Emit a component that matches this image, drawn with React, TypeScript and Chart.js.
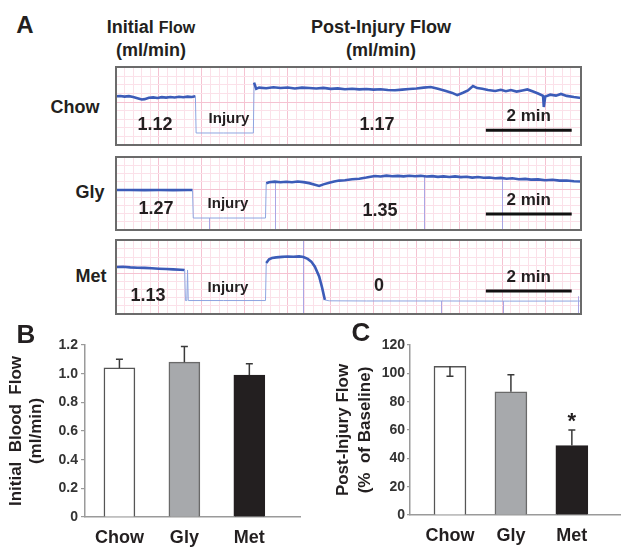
import React, { useEffect, useRef } from "react";
import { Chart, registerables } from "chart.js";
Chart.register(...registerables);

const FONT = "'Liberation Sans', Arial, Helvetica, sans-serif";
const INK = "#231f20";

// ---------- Panel A: flow traces (time in s, level in % of trace window) ----------
const TRACE_SPAN = 650;
const SCALE_BAR_START = 517;
const SCALE_BAR_LEN = 120; // 2 min

const chowTime = [0,6,12,18,24,30,36,40,46,52,58,64,70,76,82,88,94,100,106,111,112,150,192,193,196,200,210,220,230,240,250,260,270,280,290,300,310,320,330,340,350,360,370,380,390,400,410,420,430,440,450,460,470,477,485,492,499,505,512,520,530,538,545,552,560,568,575,583,590,597,598,600,607,615,622,630,640,650];
const chowFlow = [62.5,62.8,62.0,62.6,61.5,60.0,58.3,58.8,60.5,61.0,60.2,61.3,60.8,61.5,61.0,61.8,61.2,62.0,61.6,62.5,15.4,15.4,15.4,80.0,72.0,73.5,72.8,74.0,73.0,73.8,72.5,73.6,73.0,72.4,73.2,72.0,72.6,71.5,72.2,71.3,71.8,71.0,71.5,70.6,70.2,71.0,71.8,72.5,73.6,74.4,72.0,69.5,66.8,64.0,67.0,70.0,75.6,73.0,72.0,70.5,69.2,70.8,69.0,70.5,68.5,70.0,71.2,68.5,66.0,63.0,48.7,62.0,64.5,63.3,65.5,63.0,61.5,60.3];
const chowThin = [[111, 193]];
const chowMarkTime: number[] = [];
const chowMarkTop: number[] = [];

const glyTime = [0,20,40,60,80,100,107,108,150,209,210,214,222,230,238,246,254,262,270,278,284,290,298,305,312,320,330,340,350,356,362,370,378,386,394,402,410,418,426,434,442,450,458,466,474,482,490,498,506,514,522,530,538,546,554,563,572,580,590,600,610,620,630,640,650];
const glyFlow = [54.8,54.8,54.6,54.8,54.6,54.8,54.8,16.4,16.4,16.4,64.0,65.5,66.2,65.4,66.0,65.5,66.5,65.6,64.2,62.0,60.3,62.5,64.8,66.5,67.7,68.2,69.5,70.3,71.8,73.0,74.0,73.2,74.5,73.6,74.2,73.5,74.4,73.6,74.2,73.2,73.8,72.8,73.5,72.6,73.4,72.5,72.9,71.8,72.5,71.6,72.0,70.8,71.4,70.2,70.8,69.5,70.0,69.0,69.4,68.2,68.8,67.6,67.9,66.8,66.5];
const glyThin = [[107, 210]];
const glyMarkTime = [130, 222, 430, 540, 648];
const glyMarkTop = [16.4, 66, 73, 72, 66];

const metTime = [0,10,20,30,40,50,60,70,80,90,96,97,99,100,101,150,209,210,214,218,224,232,240,248,256,262,268,273,278,284,288,292,298,350,450,550,645,650];
const metFlow = [63.5,63.8,63.0,62.6,62.3,61.8,61.2,60.8,60.3,59.8,59.5,18.2,18.2,59.5,18.2,18.2,18.2,69.0,74.0,75.7,76.5,77.2,77.6,77.3,77.8,77.0,74.5,70.8,64.0,50.7,36.0,19.0,17.8,17.6,17.6,17.4,17.5,17.5];
const metThin = [[96, 210], [290, 650]];
const metMarkTime = [261, 454, 541, 646];
const metMarkTop = [100, 17.6, 17.5, 24];

const traceGroups = ["Chow", "Gly", "Met"];
const initialFlowText = ["1.12", "1.27", "1.13"];
const postFlowText = ["1.17", "1.35", "0"];
const scaleBarLevel = [19, 22, 31];

// ---------- Panels B and C ----------
const groups = ["Chow", "Gly", "Met"];
const initialMean = [1.04, 1.08, 0.99];
const initialSem = [0.06, 0.11, 0.08];
const initialSemDir = [1, 1, 1];
const initialSig = ["", "", ""];
const postMean = [105, 87, 49];
const postSem = [7, 12, 11];
const postSemDir = [-1, 1, 1];
const postSig = ["", "", "*"];
const barFill = ["#ffffff", "#a7a9ac", "#231f20"];
const barEdge = ["#555555", "#6a6a6a", "#231f20"];

const MINOR = "#fbe1e9";
const MAJOR = "#f5c3d2";
const TRACE_DARK = "#3c5cb8";
const TRACE_LIGHT = "#8ea5e0";
const MARK = "#aaa6e4";

type Box = { left: number; top: number; width: number; height: number };

function Trace({ time, flow, thin, markT, markTop, barLevel, box }: { time: number[]; flow: number[]; thin: number[][]; markT: number[]; markTop: number[]; barLevel: number; box: Box }) {
  const ref = useRef<HTMLCanvasElement>(null);
  useEffect(() => {
    const isThin = (a: number, b: number) => a === b || thin.some(([s, e]) => a >= s && b <= e);
    const marks = {
      id: "marks",
      beforeDatasetsDraw(chart: any) {
        const { ctx, scales } = chart;
        ctx.save();
        ctx.strokeStyle = MARK;
        ctx.lineWidth = 1;
        markT.forEach((t, i) => {
          const x = Math.round(scales.x.getPixelForValue(t)) + 0.5;
          ctx.beginPath();
          ctx.moveTo(x, scales.y.getPixelForValue(0));
          ctx.lineTo(x, scales.y.getPixelForValue(markTop[i]));
          ctx.stroke();
        });
        ctx.restore();
      },
    };
    const deco = {
      id: "deco",
      afterDatasetsDraw(chart: any) {
        const { ctx, chartArea: a, scales } = chart;
        const xs = scales.x, ys = scales.y;
        const x0 = xs.getPixelForValue(SCALE_BAR_START);
        const x1 = xs.getPixelForValue(SCALE_BAR_START + SCALE_BAR_LEN);
        const y = ys.getPixelForValue(barLevel);
        ctx.save();
        ctx.strokeStyle = "#111";
        ctx.lineWidth = 3;
        ctx.beginPath();
        ctx.moveTo(x0, y);
        ctx.lineTo(x1, y);
        ctx.stroke();
        ctx.fillStyle = INK;
        ctx.font = `bold 17px ${FONT}`;
        ctx.textAlign = "center";
        ctx.textBaseline = "middle";
        ctx.fillText("2 min", (x0 + x1) / 2, y - 14);
        ctx.strokeStyle = "#6b6b6b";
        ctx.lineWidth = 2;
        ctx.strokeRect(a.left, a.top, a.right - a.left, a.bottom - a.top);
        ctx.restore();
      },
    };
    const gridColor = (c: any) => (c.tick && Math.round(c.tick.value) % 60 === 0 ? MAJOR : MINOR);
    const chart = new Chart(ref.current!, {
      type: "line",
      data: {
        datasets: [
          {
            data: time.map((t, i) => ({ x: t, y: flow[i] })),
            borderColor: TRACE_DARK,
            borderWidth: 2.6,
            pointRadius: 0,
            tension: 0,
            segment: {
              borderColor: (c: any) => (isThin(c.p0.parsed.x, c.p1.parsed.x) ? TRACE_LIGHT : TRACE_DARK),
              borderWidth: (c: any) => (isThin(c.p0.parsed.x, c.p1.parsed.x) ? 1 : 2.6),
            },
          } as any,
        ],
      },
      options: {
        responsive: false,
        animation: false,
        events: [],
        layout: { padding: 2 },
        plugins: { legend: { display: false }, tooltip: { enabled: false } },
        scales: {
          x: {
            type: "linear",
            min: 0,
            max: TRACE_SPAN,
            ticks: { display: false, stepSize: 12 },
            grid: { drawTicks: false, color: gridColor },
            border: { display: false },
          },
          y: {
            min: 0,
            max: 100,
            ticks: { display: false, stepSize: 11 },
            grid: { drawTicks: false, color: (c: any) => (c.tick && Math.round(c.tick.value) % 55 === 0 ? MAJOR : MINOR) },
            border: { display: false },
          },
        },
      } as any,
      plugins: [marks, deco],
    });
    return () => chart.destroy();
  }, []);
  return (
    <canvas
      ref={ref}
      width={box.width + 4}
      height={box.height + 4}
      style={{ position: "absolute", left: box.left - 2, top: box.top - 2 }}
    />
  );
}

type BarProps = {
  box: Box;
  area: { l: number; t: number; r: number; b: number };
  means: number[];
  sems: number[];
  dirs: number[];
  sig: string[];
  yMax: number;
  yStep: number;
  fmt: (v: number) => string;
  title: string[];
  titlePad: number;
  titleLH: number;
  xMin: number;
  xMax: number;
  barW: number;
  tickLen: number;
  tickPad: number;
};

function BarPanel(p: BarProps) {
  const ref = useRef<HTMLCanvasElement>(null);
  useEffect(() => {
    const errPlugin = {
      id: "err",
      afterDatasetsDraw(chart: any) {
        const { ctx, scales } = chart;
        const meta = chart.getDatasetMeta(0);
        ctx.save();
        ctx.strokeStyle = "#3a3a3a";
        ctx.lineWidth = 1.5;
        meta.data.forEach((bar: any, i: number) => {
          const yTop = scales.y.getPixelForValue(p.means[i]);
          const yEnd = scales.y.getPixelForValue(p.means[i] + p.dirs[i] * p.sems[i]);
          ctx.beginPath();
          ctx.moveTo(bar.x, yTop);
          ctx.lineTo(bar.x, yEnd);
          ctx.moveTo(bar.x - 3.5, yEnd);
          ctx.lineTo(bar.x + 3.5, yEnd);
          ctx.stroke();
          if (p.sig[i]) {
            ctx.fillStyle = INK;
            ctx.font = `bold 22px ${FONT}`;
            ctx.textAlign = "center";
            ctx.textBaseline = "middle";
            ctx.fillText(p.sig[i], bar.x, Math.min(yTop, yEnd) - 8);
          }
        });
        ctx.restore();
      },
    };
    const chart = new Chart(ref.current!, {
      type: "bar",
      data: {
        datasets: [
          {
            data: p.means.map((m, i) => ({ x: i + 1, y: m })),
            backgroundColor: barFill,
            borderColor: barEdge,
            borderWidth: 1.5,
            barThickness: p.barW,
          } as any,
        ],
      },
      options: {
        responsive: false,
        animation: false,
        events: [],
        layout: { padding: { top: p.area.t, right: p.box.width - p.area.r, left: 0, bottom: 0 } },
        plugins: { legend: { display: false }, tooltip: { enabled: false } },
        scales: {
          x: {
            type: "linear",
            offset: false,
            min: p.xMin,
            max: p.xMax,
            afterBuildTicks: (s: any) => {
              s.ticks = groups.map((_, i) => ({ value: i + 1 }));
            },
            afterFit: (s: any) => {
              s.height = p.box.height - p.area.b;
            },
            ticks: {
              autoSkip: false,
              maxRotation: 0,
              padding: 10,
              color: INK,
              font: { family: FONT, size: 18, weight: "bold" },
              callback: (v: any) => groups[Math.round(v) - 1] ?? "",
            },
            grid: { display: false, drawTicks: false, offset: false },
            border: { display: true, color: "#9a9a9a", width: 1.5 },
          },
          y: {
            min: 0,
            max: p.yMax,
            afterFit: (s: any) => {
              s.width = p.area.l;
            },
            ticks: {
              stepSize: p.yStep,
              padding: p.tickPad,
              color: "#333",
              font: { family: FONT, size: 14, weight: "bold" },
              callback: (v: any) => p.fmt(Number(v)),
            },
            grid: { drawOnChartArea: false, drawTicks: true, tickLength: p.tickLen, color: "#9a9a9a", lineWidth: 1.2 },
            border: { display: true, color: "#9a9a9a", width: 1.5 },
            title: {
              display: true,
              text: p.title,
              color: INK,
              font: { family: FONT, size: 17, weight: "bold", lineHeight: p.titleLH },
              padding: { top: p.titlePad, bottom: 0 },
            },
          },
        },
      } as any,
      plugins: [errPlugin],
    });
    return () => chart.destroy();
  }, []);
  return (
    <canvas
      ref={ref}
      width={p.box.width}
      height={p.box.height}
      style={{ position: "absolute", left: p.box.left, top: p.box.top }}
    />
  );
}

function T({ x, y, size, children, weight = 700 }: { x: number; y: number; size: number; children: any; weight?: number }) {
  return (
    <div
      style={{
        position: "absolute",
        left: x,
        top: y,
        transform: "translate(-50%, -50%)",
        fontFamily: FONT,
        fontSize: size,
        fontWeight: weight,
        color: INK,
        whiteSpace: "pre",
        lineHeight: 1,
      }}
    >
      {children}
    </div>
  );
}

const traceBoxes: Box[] = [
  { left: 116, top: 67, width: 465, height: 78 },
  { left: 116, top: 157, width: 465, height: 73 },
  { left: 116, top: 240, width: 465, height: 74 },
];
const traceData = [
  { time: chowTime, flow: chowFlow, thin: chowThin, markT: chowMarkTime, markTop: chowMarkTop },
  { time: glyTime, flow: glyFlow, thin: glyThin, markT: glyMarkTime, markTop: glyMarkTop },
  { time: metTime, flow: metFlow, thin: metThin, markT: metMarkTime, markTop: metMarkTop },
];
const groupLabelPos = [[75, 107], [90, 192], [91, 276]];
const initPos = [[155, 124], [156, 208], [148, 295]];
const injPos = [[229, 117], [228, 202], [228, 286]];
const postPos = [[377, 124], [380, 210], [379, 285]];

export default function App() {
  return (
    <div style={{ position: "absolute", left: 0, top: 0, width: 623, height: 548, background: "#fff", overflow: "hidden" }}>
      {traceData.map((d, i) => (
        <Trace key={i} time={d.time} flow={d.flow} thin={d.thin} markT={d.markT} markTop={d.markTop} barLevel={scaleBarLevel[i]} box={traceBoxes[i]} />
      ))}
      <BarPanel
        box={{ left: 0, top: 315, width: 310, height: 233 }}
        area={{ l: 85, t: 30, r: 300, b: 202 }}
        means={initialMean}
        sems={initialSem}
        dirs={initialSemDir}
        sig={initialSig}
        yMax={1.2}
        yStep={0.2}
        fmt={(v) => (v === 0 ? "0" : v.toFixed(1))}
        title={["Initial  Blood  Flow", "(ml/min)"]}
        titlePad={7}
        titleLH={1.15}
        xMin={0.47}
        xMax={3.78}
        barW={31}
        tickLen={4}
        tickPad={3}
      />
      <BarPanel
        box={{ left: 310, top: 315, width: 313, height: 233 }}
        area={{ l: 100, t: 30, r: 310, b: 200 }}
        means={postMean}
        sems={postSem}
        dirs={postSemDir}
        sig={postSig}
        yMax={120}
        yStep={20}
        fmt={(v) => String(Math.round(v))}
        title={["Post-Injury Flow", "(%  of Baseline)"]}
        titlePad={22}
        titleLH={1.3}
        xMin={0.344}
        xMax={3.79}
        barW={32}
        tickLen={3}
        tickPad={2}
      />
      <T x={25} y={25} size={24}>A</T>
      <T x={151} y={27} size={18}>
        Initial <span style={{ fontSize: 16 }}>Flow</span>
      </T>
      <T x={151} y={50} size={18}>(ml/min)</T>
      <T x={381} y={27} size={18}>Post-Injury Flow</T>
      <T x={381} y={50} size={18}>(ml/min)</T>
      {traceGroups.map((g, i) => (
        <React.Fragment key={g}>
          <T x={groupLabelPos[i][0]} y={groupLabelPos[i][1]} size={18}>{g}</T>
          <T x={initPos[i][0]} y={initPos[i][1]} size={18}>{initialFlowText[i]}</T>
          <T x={injPos[i][0]} y={injPos[i][1]} size={15}>Injury</T>
          <T x={postPos[i][0]} y={postPos[i][1]} size={18}>{postFlowText[i]}</T>
        </React.Fragment>
      ))}
      <T x={26} y={334} size={26}>B</T>
      <T x={361} y={332} size={26}>C</T>
    </div>
  );
}
